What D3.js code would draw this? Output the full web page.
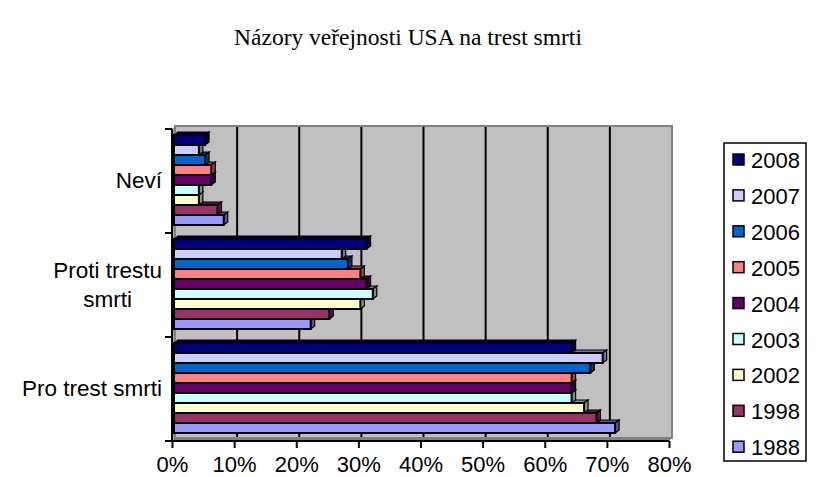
<!DOCTYPE html>
<html>
<head>
<meta charset="utf-8">
<script src="https://cdn.jsdelivr.net/npm/d3@7/dist/d3.min.js"></script>
<style>
  body { margin: 0; background: #fff; }
  text { font-family: "Liberation Sans", Arial, sans-serif; }
</style>
</head>
<body>
<div id="chart"></div>
<script>
var width = 816,
    height = 477;

// categories from top to bottom
var categories = ["Neví", "Proti trestu smrti", "Pro trest smrti"];
var categoryLines = [["Neví"], ["Proti trestu", "smrti"], ["Pro trest smrti"]];

// series (top bar first in each group, same order as legend)
var years = ["2008", "2007", "2006", "2005", "2004", "2003", "2002", "1998", "1988"];
var colors = ["#000080", "#CCCCFF", "#0066CC", "#FF8080", "#660066", "#CCFFFF", "#FFFFCC", "#993366", "#9999FF"];

// values per year: [Neví, Proti, Pro]
var v2008 = [0.05, 0.31, 0.64];
var v2007 = [0.04, 0.27, 0.69];
var v2006 = [0.05, 0.28, 0.67];
var v2005 = [0.06, 0.30, 0.64];
var v2004 = [0.06, 0.31, 0.64];
var v2003 = [0.04, 0.32, 0.64];
var v2002 = [0.04, 0.30, 0.66];
var v1998 = [0.07, 0.25, 0.68];
var v1988 = [0.08, 0.22, 0.71];
var values = [v2008, v2007, v2006, v2005, v2004, v2003, v2002, v1998, v1988];

var xTicks = [0, 0.1, 0.2, 0.3, 0.4, 0.5, 0.6, 0.7, 0.8];

var svg = d3.select("#chart").append("svg")
    .attr("width", width)
    .attr("height", height);

// title
svg.append("text")
    .attr("x", 408)
    .attr("y", 45)
    .attr("text-anchor", "middle")
    .style("font-family", "'Liberation Serif', 'Times New Roman', serif")
    .style("font-size", "23.5px")
    .text("Názory veřejnosti USA na trest smrti");

var x = d3.scaleLinear().domain([0, 0.8]).range([172, 669]);
var y = d3.scaleBand().domain(categories).range([129, 441]);
var yInner = d3.scaleBand().domain(years).range([0, 90]);

var depth = 3; // 3D offset of the wall

// left side wall and floor
svg.append("polygon")
    .attr("points", [[172, 129], [175, 126], [175, 438], [172, 441]].join(" "))
    .style("fill", "#a0a0a0");
svg.append("polygon")
    .attr("points", [[172, 441], [175, 438], [672, 438], [669, 441]].join(" "))
    .style("fill", "#808080");

// back wall
svg.append("rect")
    .attr("x", x(0) + depth)
    .attr("y", 126)
    .attr("width", x(0.8) - x(0))
    .attr("height", 312)
    .style("fill", "#C0C0C0")
    .style("stroke", "#808080")
    .style("stroke-width", 2);

// gridlines on wall
svg.selectAll(".grid")
    .data(xTicks.slice(1, -1))
    .enter().append("line")
    .attr("class", "grid")
    .attr("x1", d => x(d) + depth)
    .attr("x2", d => x(d) + depth)
    .attr("y1", 127)
    .attr("y2", 437)
    .style("stroke", "#000")
    .style("stroke-width", 2);

// bars
var groups = svg.selectAll(".cat")
    .data(categories)
    .enter().append("g")
    .attr("class", "cat")
    .attr("transform", d => "translate(0," + (y(d) + 6) + ")");

var dx = 4, dy = 3;
groups.each(function(cat, ci) {
    var g = d3.select(this);
    // draw bottom bar first so upper bars overlap top faces
    for (var si = years.length - 1; si >= 0; si--) {
        var x0 = x(0) + 2,
            x1 = x(values[si][ci]) + 2,
            y0 = yInner(years[si]),
            h = yInner.bandwidth();
        var dark = d3.color(colors[si]).darker(1.6).toString();
        g.append("polygon")
            .attr("points", [[x0, y0], [x0 + dx, y0 - dy], [x1 + dx, y0 - dy], [x1, y0]].join(" "))
            .style("fill", dark)
            .style("stroke", "#000")
            .style("stroke-width", 1.2);
        g.append("polygon")
            .attr("points", [[x1, y0], [x1 + dx, y0 - dy], [x1 + dx, y0 + h - dy], [x1, y0 + h]].join(" "))
            .style("fill", dark)
            .style("stroke", "#000")
            .style("stroke-width", 1.2);
        g.append("rect")
            .attr("x", x0)
            .attr("y", y0)
            .attr("width", x1 - x0)
            .attr("height", h)
            .style("fill", colors[si])
            .style("stroke", "#000")
            .style("stroke-width", 2);
    }
});

// x axis
var xAxis = d3.axisBottom(x)
    .tickValues(xTicks)
    .tickFormat(d3.format(".0%"))
    .tickSize(7)
    .tickPadding(8);

var xg = svg.append("g")
    .attr("transform", "translate(0,441)")
    .call(xAxis);
xg.select(".domain").remove();
xg.append("line")
    .attr("x1", 172).attr("x2", 669)
    .style("stroke", "#000").style("stroke-width", 2);
xg.selectAll(".tick line").style("stroke", "#000").style("stroke-width", 2);
xg.selectAll(".tick text")
    .style("font-family", "'Liberation Sans', Arial, sans-serif")
    .style("font-size", "22px")
    .style("fill", "#000");

// category axis
svg.append("line")
    .attr("x1", 172).attr("x2", 172)
    .attr("y1", 129).attr("y2", 441)
    .style("stroke", "#000").style("stroke-width", 2);

var bounds = categories.map(c => y(c)).concat([y.range()[1]]);
svg.selectAll(".ytick")
    .data(bounds)
    .enter().append("line")
    .attr("class", "ytick")
    .attr("x1", 165).attr("x2", 172)
    .attr("y1", d => d).attr("y2", d => d)
    .style("stroke", "#000").style("stroke-width", 2);

var lineH = 29;
categories.forEach(function(c, i) {
    var lines = categoryLines[i];
    var cy = y(c) + y.bandwidth() / 2 - 1;
    var t = svg.append("text")
        .style("font-size", "22.5px")
        .attr("text-anchor", "middle");
    lines.forEach(function(l, li) {
        t.append("tspan")
            .attr("y", cy - (lines.length - 1) * lineH / 2 + li * lineH + 8)
            .text(l);
    });
    var w = d3.max(t.selectAll("tspan").nodes(), n => n.getComputedTextLength());
    t.selectAll("tspan").attr("x", 162 - w / 2);
});

// legend
var legend = svg.append("g");
legend.append("rect")
    .attr("x", 724)
    .attr("y", 143)
    .attr("width", 82)
    .attr("height", 318)
    .style("fill", "#fff")
    .style("stroke", "#000")
    .style("stroke-width", 1.5);

var items = legend.selectAll(".item")
    .data(years)
    .enter().append("g")
    .attr("class", "item")
    .attr("transform", (d, i) => "translate(0," + (160 + i * 35.9) + ")");

items.append("rect")
    .attr("x", 733)
    .attr("y", -6)
    .attr("width", 11)
    .attr("height", 11)
    .style("fill", (d, i) => colors[i])
    .style("stroke", "#000")
    .style("stroke-width", 1.5);

items.append("text")
    .attr("x", 751)
    .attr("y", 8)
    .style("font-size", "22px")
    .text(d => d);
</script>
</body>
</html>
